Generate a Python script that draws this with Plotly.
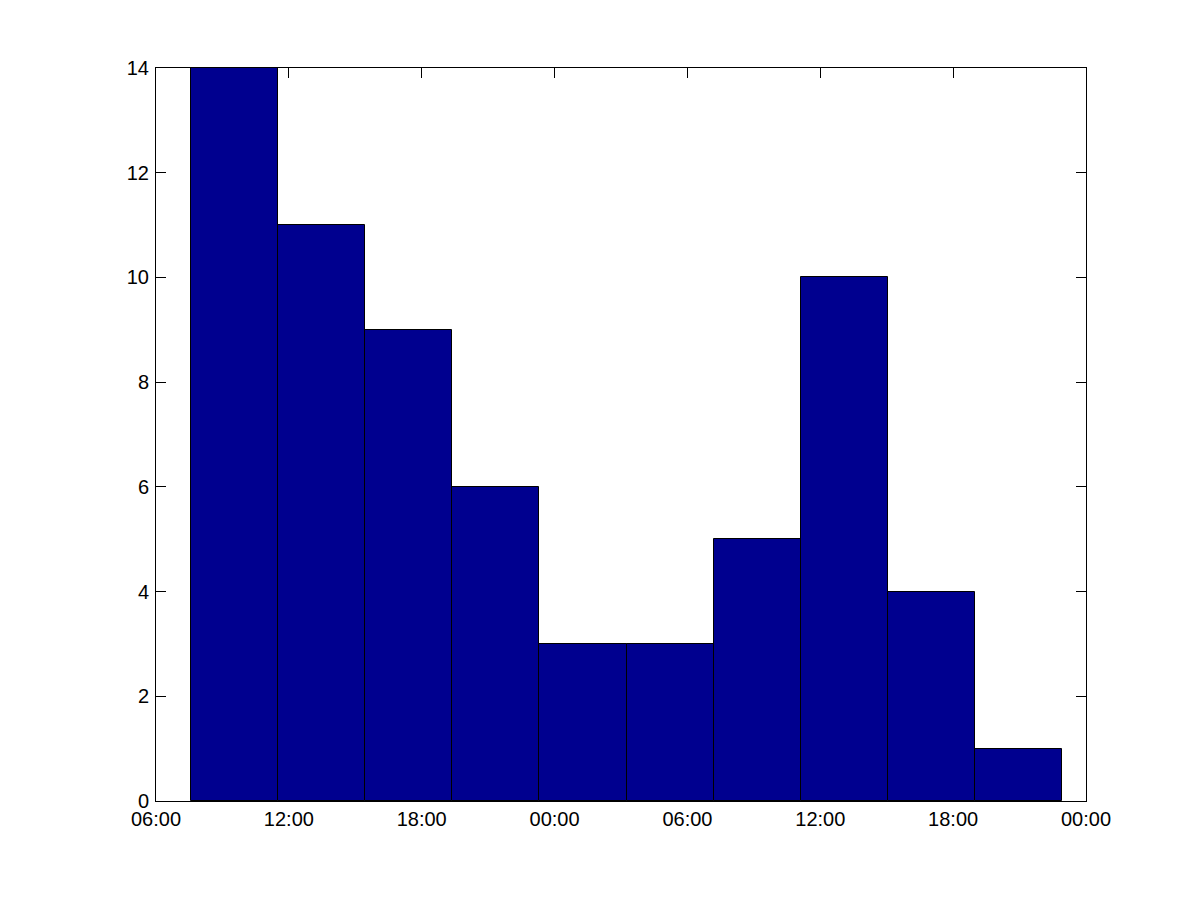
import plotly.graph_objects as go

# Histogram bins (start times) and counts
bin_starts = ["2000-01-01 07:35", "2000-01-01 11:31", "2000-01-01 15:27",
              "2000-01-01 19:23", "2000-01-01 23:19", "2000-01-02 03:15",
              "2000-01-02 07:11", "2000-01-02 11:07", "2000-01-02 15:03",
              "2000-01-02 18:59"]
counts = [14, 11, 9, 6, 3, 3, 5, 10, 4, 1]
bin_width_minutes = 236

x_range = ["2000-01-01 06:00", "2000-01-03 00:00"]
tick_vals = ["2000-01-01 06:00", "2000-01-01 12:00", "2000-01-01 18:00",
             "2000-01-02 00:00", "2000-01-02 06:00", "2000-01-02 12:00",
             "2000-01-02 18:00", "2000-01-03 00:00"]
tick_text = ["06:00", "12:00", "18:00", "00:00", "06:00", "12:00", "18:00", "00:00"]

width_ms = bin_width_minutes * 60 * 1000

fig = go.Figure()
fig.add_trace(go.Bar(
    x=bin_starts, y=counts, width=[width_ms] * len(counts), offset=0,
    marker=dict(color="#00008F", line=dict(color="black", width=1)),
))

font = dict(family="Liberation Sans, Arial, Helvetica, sans-serif", size=20, color="black")
fig.update_layout(
    width=1200, height=900,
    margin=dict(l=148, r=122, t=60, b=107),
    paper_bgcolor="white", plot_bgcolor="white",
    showlegend=False, bargap=0,
    font=font,
)
fig.update_xaxes(
    type="date", range=x_range, tickvals=tick_vals, ticktext=tick_text,
    showgrid=False, zeroline=False, showline=True, linecolor="black", linewidth=1,
    mirror="allticks", ticks="inside", ticklen=10, tickcolor="black", tickwidth=1,
    layer="below traces", tickfont=font,
)
fig.update_yaxes(
    range=[0, 14], tickvals=list(range(0, 15, 2)),
    showgrid=False, zeroline=False, showline=True, linecolor="black", linewidth=1,
    mirror="allticks", ticks="inside", ticklen=10, tickcolor="black", tickwidth=1,
    layer="below traces", tickfont=font, ticklabelstandoff=2,
)

fig.write_html("out.html")
